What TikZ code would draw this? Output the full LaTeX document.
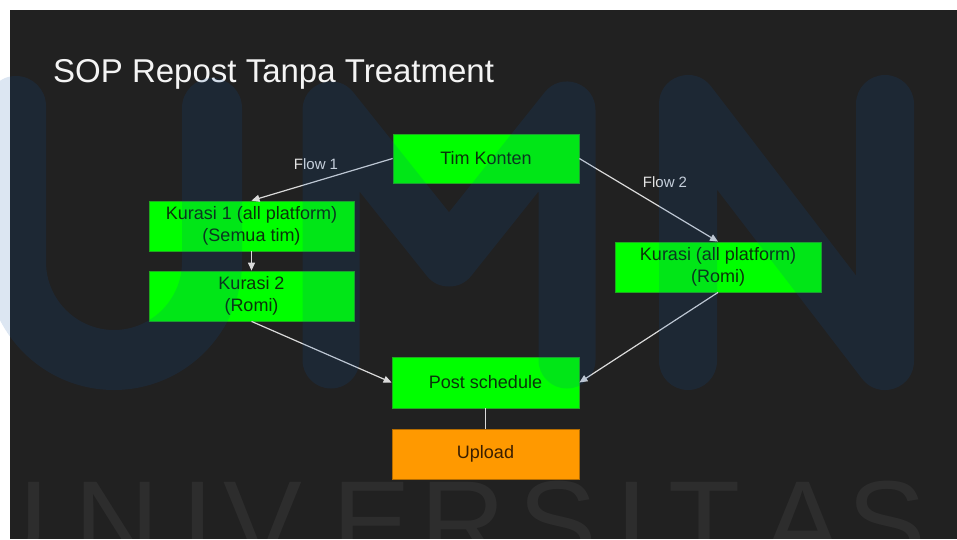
\documentclass[tikz,border=0pt]{standalone}
\usepackage{fontspec}
\setmainfont{Liberation Sans}
\usetikzlibrary{arrows.meta}

\definecolor{pagewhite}{HTML}{FFFFFF}
\definecolor{bgdark}{HTML}{212121}
\definecolor{boxgreen}{HTML}{00FF00}
\definecolor{boxgreenline}{HTML}{1FA81F}
\definecolor{boxorange}{HTML}{FF9900}
\definecolor{boxorangeline}{HTML}{B36B00}
\definecolor{greentext}{HTML}{0A330A}
\definecolor{orangetext}{HTML}{3A1E00}
\definecolor{linkgray}{HTML}{DADADA}
\definecolor{labelgray}{HTML}{E4E4E4}
\definecolor{titlewhite}{HTML}{F4F4F4}
\definecolor{wmblue}{RGB}{11,83,169}

\begin{document}
\begin{tikzpicture}[x=1pt,y=-1pt,
  stepbox/.style={rectangle, inner sep=0pt, fill=boxgreen, draw=boxgreenline,
    line width=0.8pt, text=greentext, align=center,
    font=\fontsize{18}{22}\selectfont},
  finalbox/.style={stepbox, fill=boxorange, draw=boxorangeline, text=orangetext},
  link/.style={draw=linkgray, line width=1.2pt,
    -{Triangle[length=8pt,width=7pt]}},
  plainlink/.style={draw=linkgray, line width=1.2pt},
  flowlabel/.style={text=labelgray, inner sep=0pt,
    font=\fontsize{15}{18}\selectfont},
  wmstroke/.style={draw=wmblue, line cap=round, line join=round},
  wmletter/.style={anchor=base, inner sep=0pt, text=white, text opacity=0.055,
    font=\fontsize{118}{118}\selectfont}
]
\useasboundingbox (0,0) rectangle (957,539);

% page and slide background
\fill[pagewhite] (0,0) rectangle (957,539);
\fill[bgdark] (10,10) rectangle (957,539);

% title
\node[anchor=base west, inner sep=0pt, text=titlewhite,
  font=\fontsize{33}{40}\selectfont] (title) at (53,82) {SOP Repost Tanpa Treatment};

% process boxes
\node[stepbox, minimum width=186pt, minimum height=49pt] (tk) at (486,158.5) {Tim Konten};
\node[stepbox, minimum width=205pt, minimum height=50pt] (k1) at (251.5,226) {Kurasi 1 (all platform)\\(Semua tim)};
\node[stepbox, minimum width=205pt, minimum height=50pt] (k2) at (251.5,296) {Kurasi 2\\(Romi)};
\node[stepbox, minimum width=206pt, minimum height=50pt] (k3) at (718,267) {Kurasi (all platform)\\(Romi)};
\node[stepbox, minimum width=187pt, minimum height=51pt] (ps) at (485.5,382.5) {Post schedule};
\node[finalbox, minimum width=187pt, minimum height=50pt] (up) at (485.5,454) {Upload};

% connectors
\draw[link] (tk.west) -- (k1.north);
\draw[link] (tk.east) -- (k3.north);
\draw[link] (k1.south) -- (k2.north);
\draw[link] (k2.south) -- (ps.west);
\draw[link] (k3.south) -- (ps.east);
\draw[plainlink] (ps.south) -- (up.north);

% flow labels
\node[flowlabel] (f1) at (316,164) {Flow 1};
\node[flowlabel] (f2) at (665,182) {Flow 2};

% UMN watermark, translucent over everything
\begin{scope}[opacity=0.14]
  \draw[wmstroke, line width=60pt] (16,106) -- (16,262)
    .. controls (16,316) and (60,360) .. (114,360)
    .. controls (168,360) and (212,316) .. (212,262) -- (212,108);
  \draw[wmstroke, line width=57pt] (331,360) -- (331,110) -- (449,258)
    -- (567,110) -- (567,360);
  \draw[wmstroke, line width=58pt] (688,361) -- (688,104) -- (885,361)
    -- (885,104);
\end{scope}

% UNIVERSITAS watermark along the bottom edge
\begin{scope}
  \clip (0,0) rectangle (957,539);
  \foreach \ch/\cx [count=\i] in {U/6, N/117, I/198, V/263, E/372, R/463,
      S/558, I/632, T/705, A/803, S/887}
    \node[wmletter] (wm\i) at (\cx,563) {\ch};
\end{scope}
\end{tikzpicture}
\end{document}
